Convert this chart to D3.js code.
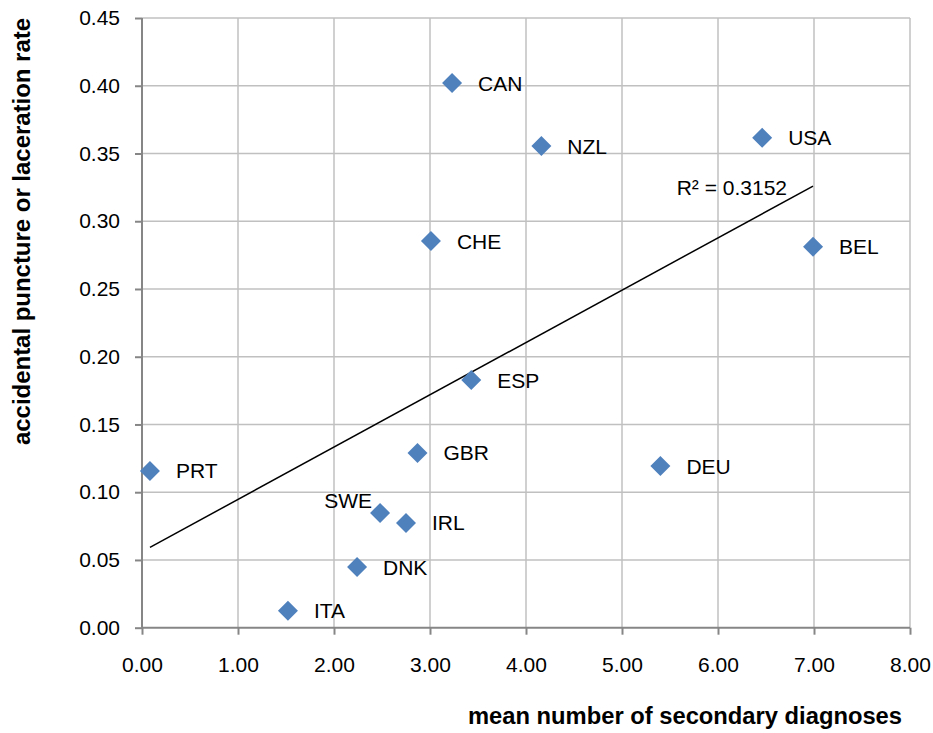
<!DOCTYPE html>
<html>
<head>
<meta charset="utf-8">
<script src="https://cdn.jsdelivr.net/npm/d3@7"></script>
<style>
  html,body{margin:0;padding:0;background:#fff;}
  svg{display:block;font-family:"Liberation Sans",Arial,sans-serif;}
  .grid line{stroke:#c0c0c0;stroke-width:1.5;}
  .axis path,.axis line{stroke:#868686;stroke-width:2;}
  .axis text{font-size:21px;fill:#000;}
</style>
</head>
<body>
<svg id="chart" width="933" height="733"></svg>
<script>
// values
const countries = ['CAN','NZL','USA','BEL','CHE','ESP','GBR','DEU','PRT','SWE','IRL','DNK','ITA'];
const meanDiag  = [3.23, 4.16, 6.46, 6.99, 3.01, 3.43, 2.87, 5.40, 0.083, 2.48, 2.75, 2.24, 1.52];
const punctRate = [0.402,0.3555,0.3617,0.2812,0.2854,0.1828,0.129,0.1193,0.1157,0.0847,0.0773,0.0448,0.0125];
const xTicks = [0,1,2,3,4,5,6,7,8];
const yTicks = [0,0.05,0.10,0.15,0.20,0.25,0.30,0.35,0.40,0.45];
const rSquared = '0.3152';
// labels sit right of the marker, SWE sits up-left
const leftLabels = ['SWE'];

const svg=d3.select('#chart');
const x=d3.scaleLinear().domain([0,8]).range([142,910]);
const y=d3.scaleLinear().domain([0,0.45]).range([627.7,18]);

// grid
svg.append('g').attr('class','grid').selectAll('line').data(xTicks.slice(1)).join('line')
  .attr('x1',d=>x(d)).attr('x2',d=>x(d)).attr('y1',y(0)).attr('y2',y(0.45));
svg.append('g').attr('class','grid').selectAll('line').data(yTicks.slice(1)).join('line')
  .attr('x1',x(0)).attr('x2',x(8)).attr('y1',d=>y(d)).attr('y2',d=>y(d));

// axes
svg.append('g').attr('class','axis').attr('transform',`translate(${x(0)},0)`)
  .call(d3.axisLeft(y).tickValues(yTicks).tickFormat(d3.format('.2f')).tickSize(7).tickPadding(15))
  .call(g=>g.select('.domain').attr('d',`M0,${y(0.45)}V${y(0)}`));
svg.append('g').attr('class','axis').attr('transform',`translate(0,${y(0)})`)
  .call(d3.axisBottom(x).tickValues(xTicks).tickFormat(d3.format('.2f')).tickSize(7).tickPadding(22))
  .call(g=>g.select('.domain').attr('d',`M${x(0)},0H${x(8)}`));

// linear trend (least squares on the points)
const mx=d3.mean(meanDiag), my=d3.mean(punctRate);
let sxy=0,sxx=0;
meanDiag.forEach((v,i)=>{sxy+=(v-mx)*(punctRate[i]-my); sxx+=(v-mx)*(v-mx);});
const slope=sxy/sxx, icpt=my-slope*mx;
const tx=d3.extent(meanDiag);
svg.append('line')
  .attr('x1',x(tx[0])).attr('y1',y(icpt+slope*tx[0]))
  .attr('x2',x(tx[1])).attr('y2',y(icpt+slope*tx[1]))
  .attr('stroke','#000').attr('stroke-width',1.5);
svg.append('text').attr('x',x(tx[1])-26).attr('y',y(icpt+slope*tx[1])+9)
  .attr('text-anchor','end').attr('font-size',21).text('R² = '+rSquared);

// markers
const pts=countries.map((c,i)=>({c,x:meanDiag[i],y:punctRate[i]}));
svg.append('g').selectAll('path').data(pts).join('path')
  .attr('d',d3.symbol(d3.symbolSquare,200)())
  .attr('transform',d=>`translate(${x(d.x)},${y(d.y)}) rotate(45)`)
  .attr('fill','#4f81bd');
svg.append('g').selectAll('text').data(pts).join('text')
  .attr('font-size',21)
  .attr('x',d=>leftLabels.includes(d.c)?x(d.x)-8:x(d.x)+26)
  .attr('y',d=>leftLabels.includes(d.c)?y(d.y)-5:y(d.y)+7.5)
  .attr('text-anchor',d=>leftLabels.includes(d.c)?'end':'start')
  .text(d=>d.c);

// axis titles
svg.append('text').attr('x',685).attr('y',724).attr('text-anchor','middle')
  .attr('font-size',23).attr('font-weight','bold')
  .attr('textLength',434).attr('lengthAdjust','spacingAndGlyphs')
  .text('mean number of secondary diagnoses');
svg.append('text').attr('transform','translate(30,231.5) rotate(-90)').attr('text-anchor','middle')
  .attr('font-size',23).attr('font-weight','bold')
  .attr('textLength',427).attr('lengthAdjust','spacingAndGlyphs')
  .text('accidental puncture or laceration rate');
</script>
</body>
</html>
